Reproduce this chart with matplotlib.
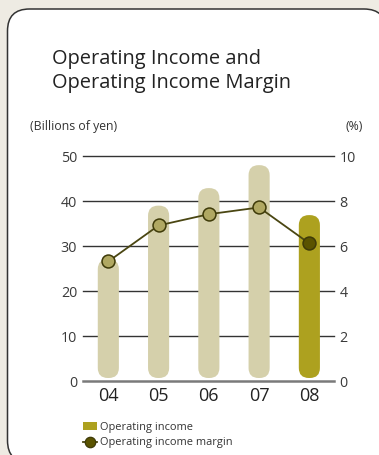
import matplotlib
matplotlib.use("Agg")
import matplotlib.pyplot as plt
from matplotlib.patches import FancyBboxPatch, Rectangle
from matplotlib.lines import Line2D

plt.rcParams['font.family'] = ['Open Sans', 'DejaVu Sans']

# Data
years = ["04", "05", "06", "07", "08"]
operating_income = [27.0, 38.9, 42.8, 47.9, 36.8]        # billions of yen
operating_margin = [5.3, 6.9, 7.4, 7.7, 6.1]             # %
left_ticks = [0, 10, 20, 30, 40, 50]
right_ticks = [0, 2, 4, 6, 8, 10]

W, H = 379, 456
fig = plt.figure(figsize=(W / 100, H / 100), dpi=100)
fig.patch.set_facecolor("#eeebe3")

# White rounded panel (runs off the right and bottom edges)
panel = FancyBboxPatch((7.5 / W, -7.5 / H), (386 - 7.5) / W, (456 + 7.5 - 10) / H,
                       boxstyle="round,pad=0,rounding_size=0.058",
                       mutation_aspect=W / H,
                       transform=fig.transFigure, facecolor="white",
                       edgecolor="#333333", linewidth=1.1, zorder=-5)
fig.patches.append(panel)

# Title
fig.text(52 / W, 1 - 64 / H, "Operating Income and", fontsize=14.4, color="#222222",
         va="baseline", ha="left")
fig.text(52 / W, 1 - 88 / H, "Operating Income Margin", fontsize=14.4, color="#222222",
         va="baseline", ha="left")
fig.text(30 / W, 1 - 127 / H, "(Billions of yen)", fontsize=8.8, color="#333333",
         va="center", ha="left")
fig.text(363 / W, 1 - 127 / H, "(%)", fontsize=8.8, color="#333333",
         va="center", ha="right")

ax_l, ax_r = 82.7 / W, 334 / W
ax_b, ax_t = 1 - 381.7 / H, 1 - 156.7 / H
ax = fig.add_axes([ax_l, ax_b, ax_r - ax_l, ax_t - ax_b])
ax.set_facecolor("none")
ax.set_xlim(-0.51, 4.49)
ax.set_ylim(0, 50)
for s in ax.spines.values():
    s.set_visible(False)

# Horizontal rules
for t in left_ticks[1:]:
    ax.axhline(t, color="#333333", linewidth=1.0, zorder=1, clip_on=False)
ax.axhline(0, color="#7a7a7a", linewidth=1.8, zorder=4, clip_on=False)

# Rounded bars
bar_w = 0.42
px_per_x = (ax_r - ax_l) * W / 5.0
px_per_y = (ax_t - ax_b) * H / 50.0
aspect = px_per_x / px_per_y
bar_colors = ["#d5d0ab"] * 4 + ["#ada11f"]
for i, (v, c) in enumerate(zip(operating_income, bar_colors)):
    p = FancyBboxPatch((i - bar_w / 2, 0.6), bar_w, v - 0.6,
                       boxstyle="round,pad=0,rounding_size=0.2",
                       mutation_aspect=aspect,
                       facecolor=c, edgecolor="none", zorder=2)
    ax.add_patch(p)

ax.set_xticks(range(len(years)))
ax.set_xticklabels(years, fontsize=13, color="#222222")
ax.set_yticks(left_ticks)
ax.set_yticklabels([str(t) for t in left_ticks], fontsize=10.3, color="#3a3a3a")
ax.tick_params(axis="both", length=0)
ax.tick_params(axis="y", pad=4)
ax.tick_params(axis="x", pad=4)

ax2 = ax.twinx()
ax2.set_ylim(0, 10)
for s in ax2.spines.values():
    s.set_visible(False)
ax2.set_yticks(right_ticks)
ax2.set_yticklabels([str(t) for t in right_ticks], fontsize=10.3, color="#3a3a3a")
ax2.tick_params(axis="y", length=0, pad=4)

xs = list(range(len(years)))
ax2.plot(xs, operating_margin, color="#4a4612", linewidth=1.3, zorder=3)
mfc = ["#b0a862"] * 4 + ["#5a5300"]
for x, y, fc in zip(xs, operating_margin, mfc):
    ax2.plot([x], [y], marker="o", markersize=9.3, markerfacecolor=fc,
             markeredgecolor="#3e3a08", markeredgewidth=1.1, zorder=5)

# Legend
fig.patches.append(Rectangle((83 / W, 1 - 431.3 / H), 14 / W, 8 / H,
                             transform=fig.transFigure, facecolor="#ada11f",
                             edgecolor="none"))
fig.lines.append(Line2D([83 / W, 97 / W], [1 - 442.5 / H] * 2,
                        transform=fig.transFigure, color="#4a4612", linewidth=1.3))
fig.lines.append(Line2D([90 / W], [1 - 442.5 / H], transform=fig.transFigure,
                        marker="o", markersize=7.5, markerfacecolor="#5a5300",
                        markeredgecolor="#3e3a08", markeredgewidth=0.9))
fig.text(100 / W, 1 - 427.3 / H, "Operating income", fontsize=7.9, color="#333333",
         va="center", ha="left")
fig.text(100 / W, 1 - 443 / H, "Operating income margin", fontsize=7.9, color="#333333",
         va="center", ha="left")

fig.savefig("out.png", dpi=100, facecolor=fig.get_facecolor())
